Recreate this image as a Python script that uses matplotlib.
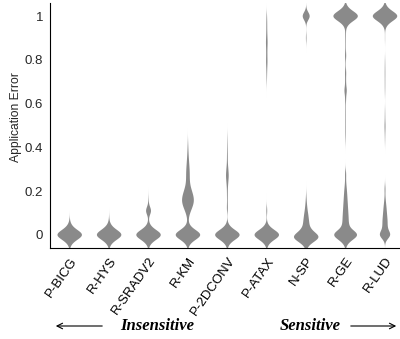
import numpy as np
import matplotlib.pyplot as plt

plt.rcParams["font.family"] = ["Liberation Sans", "DejaVu Sans"]

apps = ["P-BICG", "R-HYS", "R-SRADV2", "R-KM", "P-2DCONV", "P-ATAX", "N-SP", "R-GE", "R-LUD"]
yticks = [0, 0.2, 0.4, 0.6, 0.8, 1]
ytick_labels = ["0", "0.2", "0.4", "0.6", "0.8", "1"]

# observed application error values and how many runs landed there
p_bicg_vals = [-0.04, -0.02, 0.0, 0.02, 0.04, 0.06]
p_bicg_counts = [5, 23, 65, 23, 6, 1]

r_hys_vals = [-0.04, -0.02, 0.0, 0.02, 0.04, 0.07]
r_hys_counts = [5, 23, 65, 24, 7, 1]

r_sradv2_vals = [-0.04, -0.02, 0.0, 0.02, 0.04, 0.065, 0.11, 0.15, 0.165]
r_sradv2_counts = [5, 23, 65, 23, 5, 1, 18, 1, 0.5]

r_km_vals = [-0.04, -0.02, 0.0, 0.02, 0.04, 0.07, 0.09, 0.11, 0.13, 0.15, 0.17, 0.19,
             0.21, 0.23, 0.25, 0.27, 0.29, 0.31, 0.33, 0.35, 0.37, 0.39, 0.41, 0.43]
r_km_counts = [5, 23, 65, 23, 5, 2, 4, 10, 16, 21, 20, 16,
               11, 7, 6, 6, 6, 5, 4, 3, 2, 1.5, 1, 0.5]

p_2dconv_vals = [-0.04, -0.02, 0.0, 0.02, 0.04, 0.12, 0.15, 0.18, 0.21, 0.24, 0.27,
                 0.30, 0.33, 0.36, 0.39, 0.42, 0.45]
p_2dconv_counts = [5, 23, 65, 23, 5, 3, 1.5, 2, 2.2, 4.5, 7.5,
                   5, 2.2, 2, 1.5, 1.1, 0.6]

p_atax_vals = [-0.04, -0.02, 0.0, 0.02, 0.04, 0.11, 0.70, 0.73, 0.76, 0.79, 0.82,
               0.85, 0.88, 0.91, 0.94, 0.97, 1.0]
p_atax_counts = [5, 23, 65, 23, 5, 3, 0.8, 1.5, 2.2, 3.8, 3,
                 3, 4.5, 3, 2.2, 2.2, 1.5]

n_sp_vals = [-0.05, -0.03, -0.01, 0.01, 0.03, 0.06, 0.09, 0.12, 0.15, 0.18, 0.9, 1.0]
n_sp_counts = [5, 23, 65, 23, 16, 15, 11, 6, 3, 1, 2, 26]

r_ge_vals = [-0.04, -0.02, 0.0, 0.02, 0.05, 0.08, 0.11, 0.14, 0.17, 0.20, 0.23, 0.26, 0.28,
             0.43, 0.46, 0.49, 0.52, 0.55, 0.58, 0.62, 0.66, 0.70, 0.74,
             0.78, 0.82, 0.86, 0.89, 0.92, 0.96, 0.98, 1.0, 1.02, 1.04]
r_ge_counts = [5, 22, 60, 22, 16, 15, 13, 11, 9, 7, 4, 1.5, 3,
               0.8, 1.5, 1.5, 1.5, 1.5, 1.5, 3, 8, 3, 4,
               1.2, 4, 1.5, 1.5, 2, 5, 23, 65, 23, 5]

r_lud_vals = [0.0, 0.035, 0.065, 0.095, 0.125, 0.155, 0.18, 0.21,
              0.43, 0.46, 0.49, 0.51, 0.54, 0.57, 0.65, 0.68, 0.71, 0.74, 0.77, 0.80, 0.90,
              0.96, 0.98, 1.0, 1.02, 1.04]
r_lud_counts = [36, 13, 13, 10, 7.5, 4, 1, 3,
                0.8, 1.2, 2.2, 1.5, 1.2, 0.8, 0.8, 1.2, 1.2, 1.5, 1.2, 0.8, 0.8,
                5, 23, 65, 23, 5]

all_vals = [p_bicg_vals, r_hys_vals, r_sradv2_vals, r_km_vals, p_2dconv_vals,
            p_atax_vals, n_sp_vals, r_ge_vals, r_lud_vals]
all_counts = [p_bicg_counts, r_hys_counts, r_sradv2_counts, r_km_counts, p_2dconv_counts,
              p_atax_counts, n_sp_counts, r_ge_counts, r_lud_counts]

BW = 0.018


def kde_stats(vals, counts):
    vals = np.asarray(vals, float)
    counts = np.asarray(counts, float)
    coords = np.linspace(vals.min() - 4 * BW, vals.max() + 4 * BW, 800)
    k = np.exp(-0.5 * ((coords[:, None] - vals[None, :]) / BW) ** 2)
    dens = (k * counts[None, :]).sum(axis=1) / (counts.sum() * BW * np.sqrt(2 * np.pi))
    mean = np.average(vals, weights=counts)
    return dict(coords=coords, vals=dens, mean=mean, median=mean,
                min=vals.min(), max=vals.max())


stats = [kde_stats(v, c) for v, c in zip(all_vals, all_counts)]

fig = plt.figure(figsize=(4, 3.39), dpi=100)
ax = fig.add_axes([0.125, 0.2684, 0.875, 0.7227])

parts = ax.violin(stats, positions=range(len(apps)), widths=0.62,
                  showmeans=False, showextrema=False, showmedians=False)
for body in parts["bodies"]:
    body.set_facecolor("#8a8a8a")
    body.set_edgecolor("none")
    body.set_alpha(1)

ax.set_xlim(-0.5, 8.38)
ax.set_ylim(-0.06, 1.06)
ax.set_yticks(yticks)
ax.set_yticklabels(ytick_labels, fontsize=9.5, color="#262626")
ax.set_xticks(range(len(apps)))
ax.set_xticklabels(apps, rotation=55, ha="right", rotation_mode="anchor", fontsize=9.5)
ax.tick_params(length=0, pad=5)
ax.set_ylabel("Application Error", fontsize=8.7, color="#262626")
ax.yaxis.set_label_coords(-0.08, 0.535)
for side in ["top", "right"]:
    ax.spines[side].set_visible(False)

y_arr = 1 - 326 / 339
fig.text(0.3925, y_arr, "Insensitive", ha="center", va="center", fontsize=12,
         family="Liberation Serif", weight="bold", style="italic")
fig.text(0.775, y_arr, "Sensitive", ha="center", va="center", fontsize=12,
         family="Liberation Serif", weight="bold", style="italic")
ax.annotate("", xy=(53 / 400, y_arr), xytext=(105 / 400, y_arr), xycoords="figure fraction",
            arrowprops=dict(arrowstyle="->", lw=0.8, color="black"))
ax.annotate("", xy=(399 / 400, y_arr), xytext=(348 / 400, y_arr), xycoords="figure fraction",
            arrowprops=dict(arrowstyle="->", lw=0.8, color="black"))

fig.savefig("out.png", dpi=100)
